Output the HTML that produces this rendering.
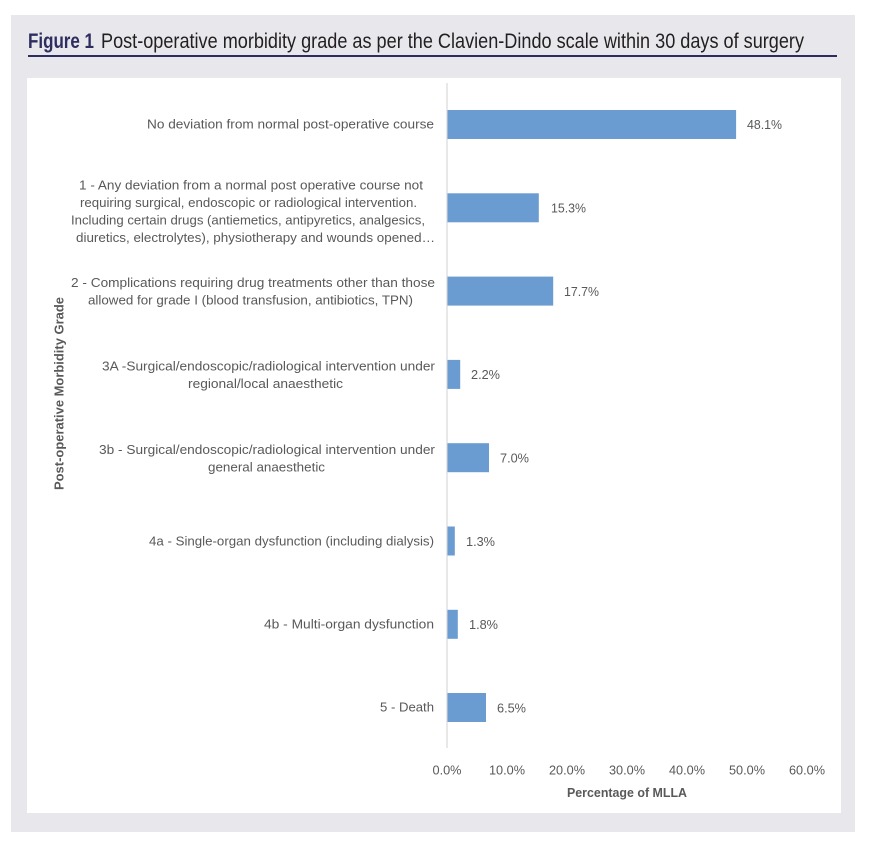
<!DOCTYPE html>
<html>
<head>
<meta charset="utf-8">
<style>
  html, body { margin:0; padding:0; background:#ffffff; }
  svg { display:block; }
</style>
</head>
<body>
<svg width="874" height="848" viewBox="0 0 874 848" xmlns="http://www.w3.org/2000/svg">
  <rect x="0" y="0" width="874" height="848" fill="#ffffff"/>
  <!-- outer gray panel -->
  <rect x="11" y="15" width="844" height="817" fill="#e8e8ec"/>
  <!-- title -->
  <text x="28" y="48" font-family="Liberation Sans, Arial, sans-serif" font-size="21" font-weight="bold" fill="#2e2d5f" textLength="66" lengthAdjust="spacingAndGlyphs">Figure 1</text>
  <text x="101" y="48" font-family="Liberation Sans, Arial, sans-serif" font-size="21" fill="#231f20" textLength="703" lengthAdjust="spacingAndGlyphs">Post-operative morbidity grade as per the Clavien-Dindo scale within 30 days of surgery</text>
  <rect x="28" y="55" width="809" height="2" fill="#2e2d5f"/>
  <!-- white chart panel -->
  <rect x="27" y="78" width="814" height="735" fill="#ffffff"/>

  <!-- axis line -->
  <line x1="447" y1="83" x2="447" y2="748" stroke="#d9d9d9" stroke-width="1.2"/>

  <!-- bars -->
  <g fill="#6a9bd1">
    <rect x="447.5" y="110" width="288.6" height="29"/>
    <rect x="447.5" y="193.3" width="91.3" height="29"/>
    <rect x="447.5" y="276.6" width="105.7" height="29"/>
    <rect x="447.5" y="359.9" width="12.7" height="29"/>
    <rect x="447.5" y="443.2" width="41.5" height="29"/>
    <rect x="447.5" y="526.5" width="7.3" height="29"/>
    <rect x="447.5" y="609.8" width="10.3" height="29"/>
    <rect x="447.5" y="693" width="38.5" height="29"/>
  </g>

  <g font-family="Liberation Sans, Arial, sans-serif" font-size="12.5" fill="#595959" lengthAdjust="spacingAndGlyphs">
    <!-- category labels -->
    <text x="147" y="128.5" textLength="287" lengthAdjust="spacingAndGlyphs">No deviation from normal post-operative course</text>

    <text x="79" y="189.5" textLength="344" lengthAdjust="spacingAndGlyphs">1 - Any deviation from a normal post operative course not</text>
    <text x="80" y="207" textLength="337" lengthAdjust="spacingAndGlyphs">requiring surgical, endoscopic or radiological intervention.</text>
    <text x="71" y="224.5" textLength="354" lengthAdjust="spacingAndGlyphs">Including certain drugs (antiemetics, antipyretics, analgesics,</text>
    <text x="76" y="242" textLength="359" lengthAdjust="spacingAndGlyphs">diuretics, electrolytes), physiotherapy and wounds opened…</text>

    <text x="71" y="287" textLength="364" lengthAdjust="spacingAndGlyphs">2 - Complications requiring drug treatments other than those</text>
    <text x="88" y="304.5" textLength="325" lengthAdjust="spacingAndGlyphs">allowed for grade I (blood transfusion, antibiotics, TPN)</text>

    <text x="102" y="370.5" textLength="333" lengthAdjust="spacingAndGlyphs">3A -Surgical/endoscopic/radiological intervention under</text>
    <text x="188" y="388" textLength="155" lengthAdjust="spacingAndGlyphs">regional/local anaesthetic</text>

    <text x="99" y="454" textLength="336" lengthAdjust="spacingAndGlyphs">3b - Surgical/endoscopic/radiological intervention under</text>
    <text x="208" y="471.5" textLength="117" lengthAdjust="spacingAndGlyphs">general anaesthetic</text>

    <text x="149" y="545.5" textLength="285" lengthAdjust="spacingAndGlyphs">4a - Single-organ dysfunction (including dialysis)</text>
    <text x="264" y="628.5" textLength="170" lengthAdjust="spacingAndGlyphs">4b - Multi-organ dysfunction</text>
    <text x="380" y="711.5" textLength="54" lengthAdjust="spacingAndGlyphs">5 - Death</text>

    <!-- value labels -->
    <text x="747" y="129" textLength="35" lengthAdjust="spacingAndGlyphs">48.1%</text>
    <text x="551" y="212.5" textLength="35" lengthAdjust="spacingAndGlyphs">15.3%</text>
    <text x="564" y="296" textLength="35" lengthAdjust="spacingAndGlyphs">17.7%</text>
    <text x="471" y="379" textLength="29" lengthAdjust="spacingAndGlyphs">2.2%</text>
    <text x="500" y="462.5" textLength="29" lengthAdjust="spacingAndGlyphs">7.0%</text>
    <text x="466" y="546" textLength="29" lengthAdjust="spacingAndGlyphs">1.3%</text>
    <text x="469" y="629" textLength="29" lengthAdjust="spacingAndGlyphs">1.8%</text>
    <text x="497" y="712.5" textLength="29" lengthAdjust="spacingAndGlyphs">6.5%</text>

    <!-- tick labels -->
    <text x="432.5" y="774.5" textLength="29" lengthAdjust="spacingAndGlyphs">0.0%</text>
    <text x="489" y="774.5" textLength="36" lengthAdjust="spacingAndGlyphs">10.0%</text>
    <text x="549" y="774.5" textLength="36" lengthAdjust="spacingAndGlyphs">20.0%</text>
    <text x="609" y="774.5" textLength="36" lengthAdjust="spacingAndGlyphs">30.0%</text>
    <text x="669" y="774.5" textLength="36" lengthAdjust="spacingAndGlyphs">40.0%</text>
    <text x="729" y="774.5" textLength="36" lengthAdjust="spacingAndGlyphs">50.0%</text>
    <text x="789" y="774.5" textLength="36" lengthAdjust="spacingAndGlyphs">60.0%</text>

    <!-- axis titles -->
    <text x="567" y="797" font-weight="bold" textLength="120" lengthAdjust="spacingAndGlyphs">Percentage of MLLA</text>
    <text x="0" y="0" font-weight="bold" textLength="193" lengthAdjust="spacingAndGlyphs" transform="translate(63.5,490) rotate(-90)">Post-operative Morbidity Grade</text>
  </g>
</svg>
</body>
</html>
